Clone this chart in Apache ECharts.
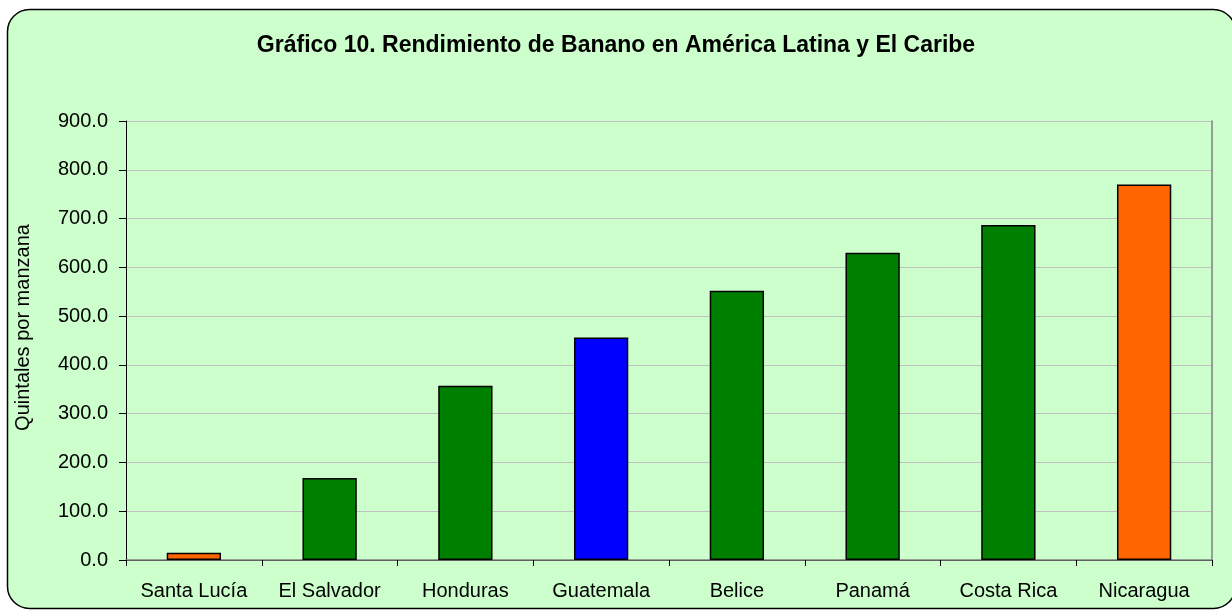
<!DOCTYPE html>
<html>
<head>
<meta charset="utf-8">
<script src="https://cdn.jsdelivr.net/npm/echarts@6/dist/echarts.min.js"></script>
<style>
  html, body { margin: 0; padding: 0; background: #fff; }
  #chart { width: 1232px; height: 610px; }
</style>
</head>
<body>
<div id="chart"></div>
<script>
// datos
var paises = ['Santa Lucía', 'El Salvador', 'Honduras', 'Guatemala', 'Belice', 'Panamá', 'Costa Rica', 'Nicaragua'];
var rendimiento = [15, 168, 357, 456, 552, 630, 687, 770];
var titulo = 'Gráfico 10. Rendimiento de Banano en América Latina y El Caribe';
var ejeY = 'Quintales por manzana';

// colores de cada barra
var colores = ['#FF6600', '#008000', '#008000', '#0000FF', '#008000', '#008000', '#008000', '#FF6600'];

var myChart = echarts.init(document.getElementById('chart'), null, { renderer: 'canvas' });

var fuente = 'Arial, "Liberation Sans", sans-serif';

var option = {
    backgroundColor: '#fff',
    animation: false,
    graphic: [
        {
            type: 'rect',
            z: -10,
            shape: { x: 7.5, y: 9.5, width: 1228, height: 599, r: 22 },
            style: { fill: '#CCFFCC', stroke: '#000', lineWidth: 1.5 },
            silent: true
        }
    ],
    title: {
        text: titulo,
        left: 'center',
        top: 29,
        textStyle: {
            fontFamily: fuente,
            fontSize: 23,
            fontWeight: 'bold',
            color: '#000'
        }
    },
    grid: {
        left: 126,
        right: 20,
        top: 121,
        bottom: 50
    },
    xAxis: [
        {
            type: 'category',
            data: paises,
            axisLine: { show: true, lineStyle: { color: '#000', width: 1 } },
            axisTick: { show: true, length: 6, interval: 0, inside: false, lineStyle: { color: '#000' } },
            axisLabel: {
                interval: 0,
                color: '#000',
                fontFamily: fuente,
                fontSize: 20,
                margin: 21
            },
            splitLine: { show: false }
        },
        {
            type: 'category',
            position: 'top',
            data: paises,
            axisLine: { show: true, lineStyle: { color: '#808080', width: 1.5 } },
            axisTick: { show: false },
            axisLabel: { show: false }
        }
    ],
    yAxis: [
        {
            type: 'value',
            min: 0,
            max: 900,
            interval: 100,
            name: ejeY,
            nameLocation: 'middle',
            nameGap: 93,
            nameTextStyle: {
                color: '#000',
                fontFamily: fuente,
                fontSize: 20,
                padding: [0, 0, 0, 26]
            },
            axisLine: { show: true, lineStyle: { color: '#000', width: 1 } },
            axisTick: { show: true, length: 7, lineStyle: { color: '#000' } },
            axisLabel: {
                color: '#000',
                fontFamily: fuente,
                fontSize: 20,
                margin: 18,
                formatter: function (v) { return v.toFixed(1); }
            },
            splitLine: { show: true, lineStyle: { color: '#C0C0C0', width: 1 } }
        },
        {
            type: 'value',
            position: 'right',
            min: 0,
            max: 900,
            interval: 100,
            axisLine: { show: true, lineStyle: { color: '#808080', width: 1.5 } },
            axisTick: { show: false },
            axisLabel: { show: false },
            splitLine: { show: false }
        }
    ],
    series: [
        {
            type: 'bar',
            barWidth: '40%',
            data: rendimiento.map(function (v, i) {
                return {
                    value: v,
                    itemStyle: { color: colores[i] }
                };
            }),
            itemStyle: {
                borderColor: '#000',
                borderWidth: 1.5
            }
        }
    ]
};

myChart.setOption(option);
window.addEventListener('resize', function () {
    myChart.resize();
});
</script>
</body>
</html>
